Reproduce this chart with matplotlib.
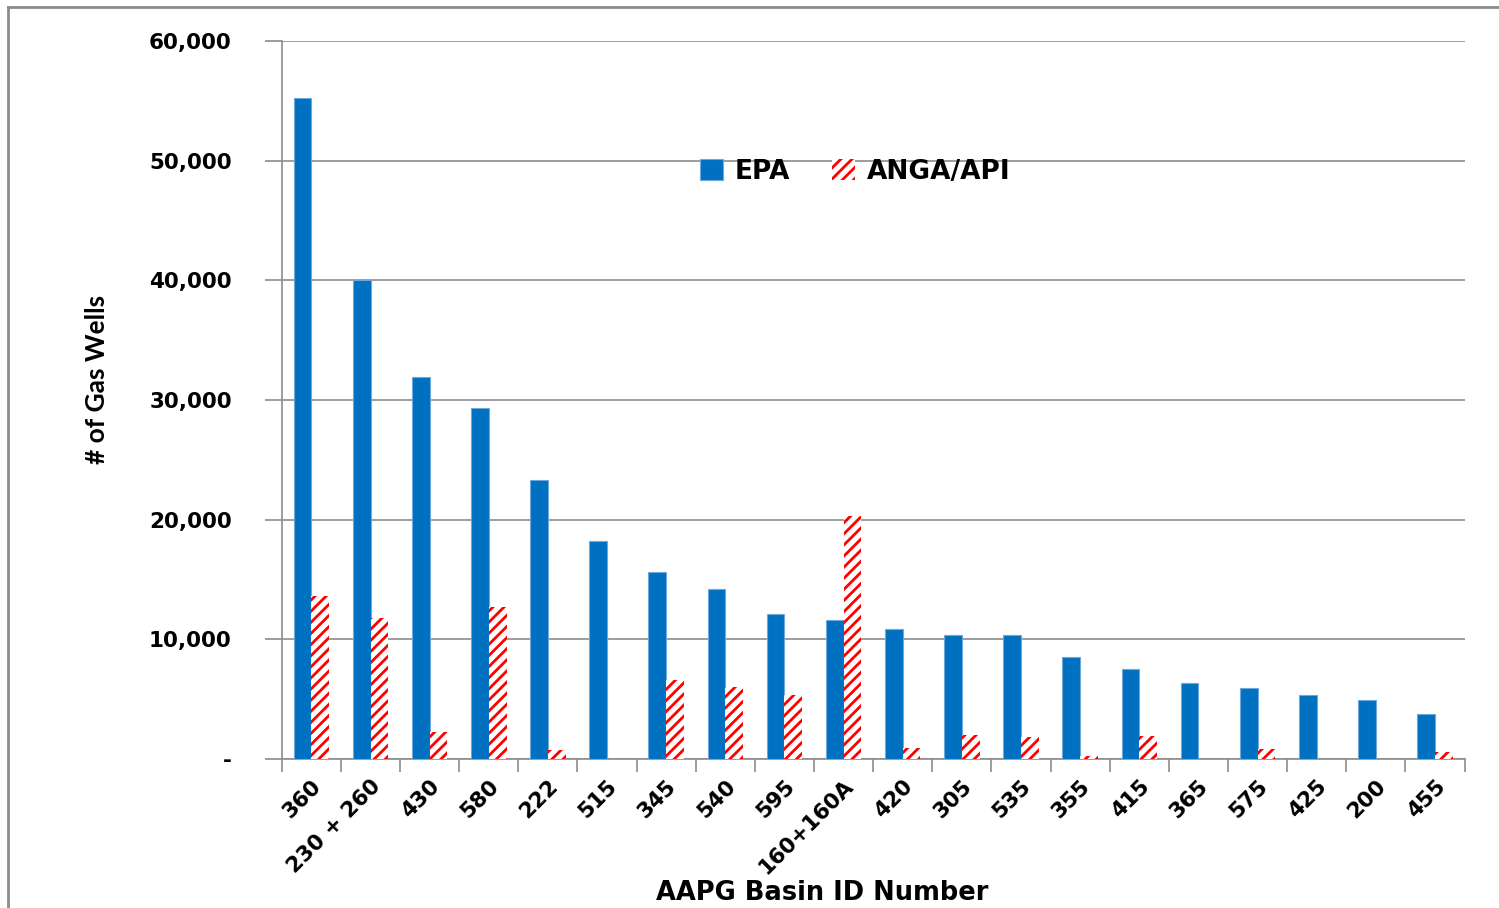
import numpy as np
import matplotlib
matplotlib.use('Agg')
import matplotlib.pyplot as plt
from matplotlib.lines import Line2D

# Basin IDs and well counts
basins = ['360', '230 + 260', '430', '580', '222', '515', '345', '540', '595', '160+160A',
          '420', '305', '535', '355', '415', '365', '575', '425', '200', '455']
epa = [55200, 40000, 31900, 29300, 23300, 18200, 15600, 14200, 12100, 11600,
       10900, 10400, 10400, 8500, 7500, 6350, 5900, 5350, 4900, 3750]
anga = [13600, 11800, 2250, 12700, 750, 0, 6600, 6000, 5350, 20300,
        900, 2000, 1850, 250, 1900, 0, 850, 0, 0, 600]

plt.rcParams['hatch.linewidth'] = 2.0

fig = plt.figure(figsize=(14.99, 9.08), dpi=100)
ax = fig.add_axes([0.188, 0.164, 0.789, 0.791])

x = np.arange(len(basins))
w = 0.3
ax.bar(x - w / 2, epa, w, color='#0070c0', edgecolor='#6fa8dc', linewidth=0.8,
       label='EPA', zorder=3)
ax.bar(x + w / 2, anga, w, color='white', edgecolor='#ff0000', hatch='///',
       linewidth=0, label='ANGA/API', zorder=3)

ax.set_xlim(-0.5, len(basins) - 0.5)
ax.set_ylim(0, 60000)
ax.set_yticks(range(0, 60001, 10000))
ax.set_yticklabels(['-'] + [f'{v:,}' for v in range(10000, 60001, 10000)],
                   fontsize=15.5, fontweight='bold')
ax.yaxis.grid(True, color='#8c8c8c', linewidth=1.2, zorder=0)

ax.set_xticks(x)
ax.set_xticklabels(basins, rotation=45, ha='right', rotation_mode='anchor',
                   fontsize=15.5, fontweight='bold')
ax.tick_params(axis='x', which='major', length=0, pad=12)
ax.set_xticks(np.arange(-0.5, len(basins), 1), minor=True)
ax.tick_params(axis='x', which='minor', length=9, color='#8c8c8c', width=1.2)
ax.tick_params(axis='y', length=12, color='#8c8c8c', width=1.2, pad=24)

for s in ['top', 'right']:
    ax.spines[s].set_visible(False)
for s in ['left', 'bottom']:
    ax.spines[s].set_color('#8c8c8c')
    ax.spines[s].set_linewidth(1.2)

ax.set_xlabel('AAPG Basin ID Number', fontsize=18.5, fontweight='bold')
ax.xaxis.set_label_coords(0.457, -0.168)
ax.set_ylabel('# of Gas Wells', fontsize=19, fontweight='bold',
              family=['Lato', 'DejaVu Sans'])
ax.yaxis.set_label_coords(-0.146, 0.528)

ax.legend(loc='center left', bbox_to_anchor=(0.354, 0.8175), ncol=2, frameon=False,
          prop={'size': 19, 'weight': 'bold'}, handlelength=0.85, handleheight=0.85,
          columnspacing=1.6, handletextpad=0.45, borderpad=0, borderaxespad=0)

# outer frame (left and top only visible)
fig.add_artist(Line2D([8 / 1499, 8 / 1499], [0, 1 - 7 / 908], color='#8c8c8c', lw=2))
fig.add_artist(Line2D([8 / 1499, 1], [1 - 7 / 908, 1 - 7 / 908], color='#8c8c8c', lw=2))

fig.savefig('out.png', dpi=100)
